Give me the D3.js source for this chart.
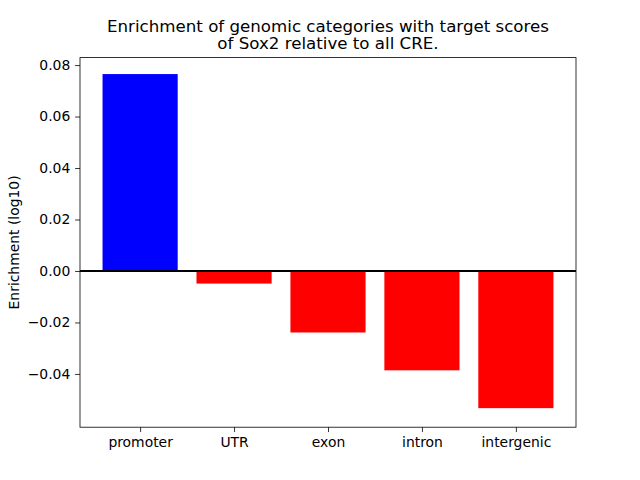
<!DOCTYPE html>
<html><head><meta charset="utf-8">
<script src="https://cdn.jsdelivr.net/npm/d3@7"></script>
<style>body{margin:0;background:#fff}svg{display:block}text{font-family:"DejaVu Sans",sans-serif;fill:#000}</style>
</head><body><svg id="c" width="640" height="480"></svg>
<script>
const categories = ["promoter","UTR","exon","intron","intergenic"];
const values = [0.0765,-0.0049,-0.0239,-0.0386,-0.0533];
const colors = ["blue","red","red","red","red"];
const yTicks = [-0.04,-0.02,0.00,0.02,0.04,0.06,0.08];
const titleLines = ["Enrichment of genomic categories with target scores","of Sox2 relative to all CRE."];
const yLabel = "Enrichment (log10)";

const svg = d3.select("#c");
const L=80, R=576, T=57.6, B=427.2;
const x = d3.scaleLinear().domain([-0.64,4.64]).range([L,R]);
const y = d3.scaleLinear().domain([-0.0607,0.0829]).range([B,T]);
const bw = 0.8;

svg.append("g").selectAll("rect").data(values).join("rect")
  .attr("x",(d,i)=>x(i-bw/2)).attr("width",(d,i)=>x(i+bw/2)-x(i-bw/2))
  .attr("y",d=>y(Math.max(0,d))).attr("height",d=>Math.abs(y(d)-y(0)))
  .attr("fill",(d,i)=>colors[i]);

svg.append("line").attr("x1",L).attr("x2",R).attr("y1",y(0)).attr("y2",y(0))
  .attr("stroke","#000").attr("stroke-width",2);

const fs = 13.9;
const yAxis = d3.axisLeft(y).tickValues(yTicks).tickFormat(d3.format(".2f")).tickSize(4.86).tickPadding(4.86);
const gy = svg.append("g").attr("transform",`translate(${L},0)`).call(yAxis);
gy.select(".domain").remove();
gy.selectAll("text").attr("font-size",fs).attr("font-family","DejaVu Sans");
gy.selectAll("line").attr("stroke","#000").attr("stroke-width",0.8);

const xAxis = d3.axisBottom(x).tickValues(d3.range(categories.length)).tickFormat(i=>categories[i]).tickSize(4.86).tickPadding(4.86);
const gx = svg.append("g").attr("transform",`translate(0,${B})`).call(xAxis);
gx.select(".domain").remove();
gx.selectAll("text").attr("font-size",fs).attr("font-family","DejaVu Sans");
gx.selectAll("line").attr("stroke","#000").attr("stroke-width",0.8);

svg.append("rect").attr("x",L).attr("y",T).attr("width",R-L).attr("height",B-T)
  .attr("fill","none").attr("stroke","#000").attr("stroke-width",0.8);

svg.append("text").attr("transform",`translate(19,${(T+B)/2}) rotate(-90)`)
  .attr("text-anchor","middle").attr("font-size",fs).text(yLabel);

const tfs = 16.67;
titleLines.forEach((t,i)=>{
  svg.append("text").attr("x",(L+R)/2).attr("y",T-8.4 - (titleLines.length-1-i)*17.3)
    .attr("text-anchor","middle").attr("font-size",tfs).text(t);
});
</script></body></html>
